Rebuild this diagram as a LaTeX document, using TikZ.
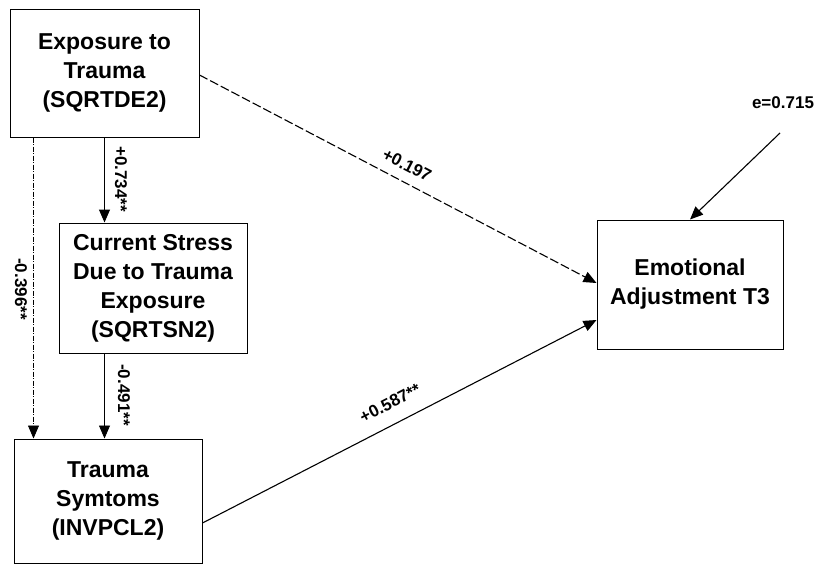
\documentclass[tikz,border=0pt]{standalone}
\usepackage{fontspec}
\setmainfont{Liberation Sans}
\usetikzlibrary{arrows.meta,calc}
\begin{document}
\begin{tikzpicture}[x=1pt,y=-1pt,
  box/.style={draw,line width=1pt,align=center,font=\fontsize{23}{29}\selectfont\bfseries,inner sep=0pt},
  lab/.style={font=\fontsize{17}{19}\selectfont\bfseries,inner sep=1pt},
  conn/.style={line width=1.1pt,-{Triangle[length=13pt,width=11pt]}}]
\useasboundingbox (0,0) rectangle (825,568);
\node[box,minimum width=189pt,minimum height=128pt] (A) at (104.5,73) {Exposure to\\Trauma\\(SQRTDE2)};
\node[box,minimum width=188pt,minimum height=130pt] (B) at (153,288) {Current Stress\\Due to Trauma\\Exposure\\(SQRTSN2)};
\node[box,minimum width=188pt,minimum height=124pt] (C) at (108,501) {Trauma\\Symtoms\\(INVPCL2)};
\node[box,minimum width=186pt,minimum height=129pt] (D) at (690,284.5) {Emotional\\Adjustment T3};
\node[lab] (e) at (783,103) {e=0.715};
\coordinate (es) at (780,133);
\coordinate (a1) at ($(A.south west)+(24,0)$);
% vertical paths
\draw[conn] (A.south) -- (A.south |- B.north);
\draw[conn,line width=0.8pt,dash pattern=on 5pt off 1.5pt on 1pt off 1.5pt] (a1) -- (a1 |- C.north);
\draw[conn,line width=0.8pt] (B.south -| A.south) -- (C.north -| A.south);
% diagonal paths
\draw[conn,dash pattern=on 9pt off 3pt] ($(A.east)+(0,2)$) -- ($(D.west)+(0,-1.5)$);
\draw[conn] ($(C.east)+(0,22)$) -- ($(D.west)+(0,35.5)$);
\draw[conn] (es) -- (D.north);
% labels
\node[lab,rotate=-90] (l734) at (121,179) {+0.734**};
\node[lab,rotate=-90] (l396) at (21,289) {-0.396**};
\node[lab,rotate=-90] (l491) at (124,395) {-0.491**};
\node[lab,rotate=-27.6] (l197) at (407,165) {+0.197};
\node[lab,rotate=27.2] (l587) at (390,403) {+0.587**};
\end{tikzpicture}
\end{document}
